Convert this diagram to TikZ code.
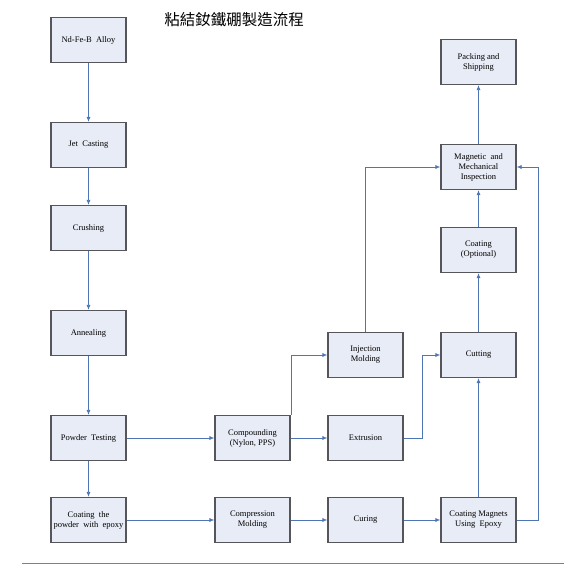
\documentclass[tikz,border=0pt]{standalone}
\usepackage{fontspec}
\setmainfont{Liberation Serif}
\newfontfamily\cjk{Noto Sans CJK TC}
\definecolor{boxFill}{RGB}{232, 236, 246}
\definecolor{boxLine}{RGB}{85, 85, 90}
\definecolor{flowBlue}{RGB}{79, 118, 180}
\usetikzlibrary{arrows.meta, positioning, calc}

\begin{document}
\begin{tikzpicture}[
                x=1pt, y=-1pt,
                every node/.style={align=center},
                stepbox/.style={rectangle, draw=boxLine, line width=1.2pt, fill=boxFill,
                    minimum width=75pt, minimum height=45pt, inner sep=1pt,
                    font=\fontsize{8.5}{10}\selectfont},
                flow/.style={draw=flowBlue, line width=0.7pt, -{Latex[length=5pt, width=4pt]}}
            ]
                \useasboundingbox (0,0) rectangle (564,567);
                % title
                \node[font=\cjk\fontsize{15.5}{17}\selectfont] (title) at (234,20) {粘結釹鐵硼製造流程};
                % first column
                \node[stepbox] (alloy)   at (88.5,40)  {Nd-Fe-B\ \ Alloy};
                \node[stepbox] (jet)     at (88.5,145) {Jet\ \ Casting};
                \node[stepbox] (crush)   at (88.5,228) {Crushing};
                \node[stepbox] (anneal)  at (88.5,333) {Annealing};
                \node[stepbox] (testing) at (88.5,438) {Powder\ \ Testing};
                \node[stepbox] (coatpow) at (88.5,520) {Coating\ \ the\\powder\ \ with\ \ epoxy};
                % second column
                \node[stepbox] (compound) at (252.5,438) {Compounding\\(Nylon, PPS)};
                \node[stepbox] (compress) at (252.5,520) {Compression\\Molding};
                % third column
                \node[stepbox] (inject)  at (365.5,355) {Injection\\Molding};
                \node[stepbox] (extrude) at (365.5,438) {Extrusion};
                \node[stepbox] (curing)  at (365.5,520) {Curing};
                % fourth column
                \node[stepbox] (packing) at (478.5,62)  {Packing and\\Shipping};
                \node[stepbox] (inspect) at (478.5,167) {Magnetic\ \ and\\Mechanical\\Inspection};
                \node[stepbox] (coatopt) at (478.5,250) {Coating\\(Optional)};
                \node[stepbox] (cutting) at (478.5,355) {Cutting};
                \node[stepbox] (coatmag) at (478.5,520) {Coating Magnets\\Using\ \ Epoxy};
                % connectors
                \draw[flow] (alloy) -- (jet);
                \draw[flow] (jet) -- (crush);
                \draw[flow] (crush) -- (anneal);
                \draw[flow] (anneal) -- (testing);
                \draw[flow] (testing) -- (coatpow);
                \draw[flow] (testing) -- (compound);
                \draw[flow] (coatpow) -- (compress);
                \draw[flow] (compound) -- (extrude);
                \draw[flow] (compress) -- (curing);
                \draw[flow] (curing) -- (coatmag);
                \draw[flow] ([xshift=1pt]compound.north east) |- (inject.west);
                \draw[flow] (extrude.east) -- ++(19,0) |- (cutting.west);
                \draw[flow] (inject.north) |- (inspect.west);
                \draw[flow] (coatmag.east) -- ++(22,0) |- (inspect.east);
                \draw[flow] (coatmag) -- (cutting);
                \draw[flow] (cutting) -- (coatopt);
                \draw[flow] (coatopt) -- (inspect);
                \draw[flow] (inspect) -- (packing);
                % bottom rule
                \draw[gray, line width=1pt] (22,563) coordinate (ruleL) -- (564,563) coordinate (ruleR);
            \end{tikzpicture}
\end{document}
